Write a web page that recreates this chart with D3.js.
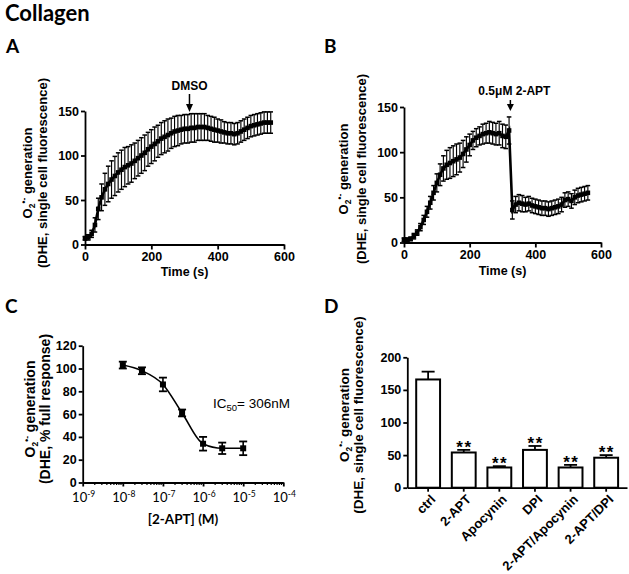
<!DOCTYPE html>
<html><head><meta charset="utf-8">
<script src="https://cdn.jsdelivr.net/npm/d3@7"></script>
<style>
body{margin:0;background:#fff;}
svg text{font-family:"Liberation Sans",Arial,sans-serif;fill:#000;}
</style></head><body>
<svg id="c" width="629" height="574"></svg>
<script>
// ---------- DATA ----------
const timeTicks = [0, 200, 400, 600];
const yTicksAB = [0, 50, 100, 150];

const timeA = [0,10,20,30,40,50,60,70,80,90,100,110,120,130,140,150,160,170,180,190,200,210,220,230,240,250,260,270,280,290,300,310,320,330,340,350,360,370,380,390,400,410,420,430,440,450,460,470,480,490,500,510,520,530,540,550,560];
const meanA = [7,8,12,22,40,53,62,68,73,77, 81,84,87,89,91,94,97,100,103,107, 110,113,116,119,121,123,125,127,128,129, 130,130,131,131,132,132,132,131,130,129, 128,127,126,125,125,124,125,127,129,131, 133,134,135,136,137,137,137];
const errA  = [2,3,4,8,12,15,18,20,21,22, 22,22,22,21,21,20,20,20,20,19, 19,19,18,18,18,18,17,17,17,16, 16,16,16,16,15,15,15,14,14,14, 13,13,12,12,12,12,12,12,12,12, 12,12,12,12,12,12,12];
const arrowA = {time: 315, label: "DMSO"};

const timeB = [0,10,20,30,40,50,60,70,80,90,100,110,120,130,140,150,160,170,180,190,200,210,220,230,240,250,260,270,280,290,300,310,320,330,340,350,360,370,380,390,400,410,420,430,440,450,460,470,480,490,500,510,520,530,540,550,560];
const meanB = [3,3,4,7,11,17,25,34,44,55, 66,75,82,86,88,90,92,94,98,103, 108,113,116,118,120,121,122,121,120,121, 118,117,124,36,42,44,43,42,43,41, 40,39,38,38,37,38,39,40,42,47, 48,46,50,52,53,54,55];
const errB  = [2,2,2,3,3,4,5,6,7,8, 10,12,14,16,17,17,17,16,15,14, 12,10,10,10,11,11,12,12,12,13, 13,13,15,10,9,9,9,8,8,8, 8,8,8,8,8,8,8,8,8,8, 8,8,8,8,8,8,8];
const arrowB = {time: 324, label: "0.5\u03bcM 2-APT"};

const concC = [1e-8, 3e-8, 1e-7, 3e-7, 1e-6, 3e-6, 1e-5];
const meanC = [103, 98, 86, 61, 34, 30, 30];
const errC  = [3, 3, 6, 3, 6, 5, 6];
const decadeExpC = [-9, -8, -7, -6, -5, -4];
const yTicksC = [0, 20, 40, 60, 80, 100, 120];

const catsD = ["ctrl", "2-APT", "Apocynin", "DPI", "2-APT/Apocynin", "2-APT/DPI"];
const meanD = [166, 54, 31, 58, 31, 46];
const errD  = [12, 4, 2, 6, 4, 4];
const sigD  = ["", "**", "**", "**", "**", "**"];
const yTicksD = [0, 50, 100, 150, 200];

// ---------- DRAW ----------
const svg = d3.select('#c');
const LATO = 'Lato, "Liberation Sans", sans-serif';

function styleAxis(g, fs) {
  g.selectAll('path,line').attr('stroke', '#000').attr('stroke-width', 1.8);
  g.selectAll('text').attr('font-size', fs).attr('font-weight', 'bold').attr('fill', '#000');
}

function yTitle(x1, x2, yc, line2, fs) {
  const t1 = svg.append('text').attr('transform', `translate(${x1},${yc}) rotate(-90)`)
    .attr('text-anchor', 'middle').attr('font-size', fs).attr('font-weight', 'bold');
  t1.append('tspan').text('O');
  t1.append('tspan').attr('font-size', 8.5).attr('dy', 3).text('2');
  t1.append('tspan').attr('font-size', 8.5).attr('dy', -8).text('\u2022-');
  t1.append('tspan').attr('dy', 5).text(' generation');
  svg.append('text').attr('transform', `translate(${x2},${yc}) rotate(-90)`)
    .attr('text-anchor', 'middle').attr('font-size', fs).attr('font-weight', 'bold').text(line2);
}

function panelLetter(txt, x, y) {
  svg.append('text').attr('x', x).attr('y', y)
    .attr('font-weight', 'bold').attr('font-size', 19).style('font-family', LATO).text(txt);
}

svg.append('text').attr('x', 5).attr('y', 21).style('font-family', LATO)
  .attr('font-weight', 'bold').attr('font-size', 22).text('Collagen');

function timePanel(times, means, errs, xr, yr, axisY) {
  const x = d3.scaleLinear([0, 600], xr);
  const y = d3.scaleLinear([0, 150], yr);
  const g = svg.append('g');
  const eb = g.append('g').attr('stroke', '#000').attr('stroke-width', 1.15);
  times.forEach((t, i) => {
    const cx = x(t), y1 = y(means[i] + errs[i]), y0 = y(means[i] - errs[i]);
    eb.append('line').attr('x1', cx).attr('x2', cx).attr('y1', y1).attr('y2', y0);
    eb.append('line').attr('x1', cx - 2.3).attr('x2', cx + 2.3).attr('y1', y1).attr('y2', y1).attr('stroke-width', 1.5);
    eb.append('line').attr('x1', cx - 2.3).attr('x2', cx + 2.3).attr('y1', y0).attr('y2', y0).attr('stroke-width', 1.5);
  });
  const line = d3.line().x((d, i) => x(times[i])).y(d => y(d));
  g.append('path').attr('d', line(means)).attr('fill', 'none').attr('stroke', '#000').attr('stroke-width', 2.6);
  g.selectAll('rect.m').data(means).join('rect')
    .attr('x', (d, i) => x(times[i]) - 2.3).attr('y', d => y(d) - 2.3)
    .attr('width', 4.6).attr('height', 4.6).attr('fill', '#000');
  const ax = svg.append('g').attr('transform', `translate(0,${y(0)})`)
    .call(d3.axisBottom(x).tickValues(timeTicks).tickSize(5).tickSizeOuter(0).tickPadding(3));
  styleAxis(ax, 12.5);
  const ay = svg.append('g').attr('transform', `translate(${x(0)},0)`)
    .call(d3.axisLeft(y).tickValues(yTicksAB).tickSize(4).tickSizeOuter(0).tickPadding(2));
  styleAxis(ay, 12.5);
  svg.append('text').attr('x', x(300)).attr('y', axisY).attr('text-anchor', 'middle')
    .attr('font-size', 12.5).attr('font-weight', 'bold').text('Time (s)');
  return {x, y};
}

function arrow(ax, yTop, yHeadTop, yTip) {
  svg.append('line').attr('x1', ax).attr('x2', ax).attr('y1', yTop).attr('y2', yHeadTop + 2).attr('stroke', '#000').attr('stroke-width', 1.5);
  svg.append('path').attr('d', `M${ax - 3.5},${yHeadTop} L${ax + 3.5},${yHeadTop} L${ax},${yTip} Z`).attr('fill', '#000');
}

// Panel A
panelLetter('A', 6, 53);
const pA = timePanel(timeA, meanA, errA, [85, 284], [244.5, 111], 276);
yTitle(31.5, 46.5, 173, '(DHE, single cell fluorescence)', 13);
svg.append('text').attr('x', pA.x(arrowA.time)).attr('y', 90).attr('text-anchor', 'middle')
  .attr('font-size', 12).attr('font-weight', 'bold').text(arrowA.label);
arrow(pA.x(arrowA.time), 94, 104, 112);

// Panel B
panelLetter('B', 324, 53);
const pB = timePanel(timeB, meanB, errB, [404, 601], [242.5, 107], 274.5);
yTitle(348, 366, 169, '(DHE, single cell fluorescence)', 13);
svg.append('text').attr('x', pB.x(arrowB.time) + 4).attr('y', 95).attr('text-anchor', 'middle')
  .attr('font-size', 12).attr('font-weight', 'bold').text(arrowB.label);
arrow(pB.x(arrowB.time), 100, 104, 111);

// Panel C
panelLetter('C', 5, 313);
{
  const x = d3.scaleLog([1e-9, 1e-4], [82.7, 283.3]);
  const y = d3.scaleLinear([0, 120], [482.5, 345.7]);
  const g = svg.append('g');
  const line = d3.line().x((d, i) => x(concC[i])).y(d => y(d)).curve(d3.curveMonotoneX);
  g.append('path').attr('d', line(meanC)).attr('fill', 'none').attr('stroke', '#000').attr('stroke-width', 1.6);
  concC.forEach((c, i) => {
    const cx = x(c), y1 = y(meanC[i] + errC[i]), y0 = y(meanC[i] - errC[i]);
    g.append('line').attr('x1', cx).attr('x2', cx).attr('y1', y1).attr('y2', y0).attr('stroke', '#000').attr('stroke-width', 1.6);
    [y1, y0].forEach(yy => g.append('line').attr('x1', cx - 4).attr('x2', cx + 4).attr('y1', yy).attr('y2', yy).attr('stroke', '#000').attr('stroke-width', 1.8));
    g.append('rect').attr('x', cx - 3).attr('y', y(meanC[i]) - 3).attr('width', 6).attr('height', 6).attr('fill', '#000');
  });
  const majors = decadeExpC.map(e => Math.pow(10, e));
  const ax = svg.append('g').attr('transform', `translate(0,${y(0)})`)
    .call(d3.axisBottom(x).tickValues(majors).tickSize(4).tickSizeOuter(0).tickFormat(''));
  styleAxis(ax, 12);
  decadeExpC.slice(0, -1).forEach(e => {
    for (let k = 2; k <= 9; k++) {
      const v = k * Math.pow(10, e);
      svg.append('line').attr('x1', x(v)).attr('x2', x(v)).attr('y1', y(0)).attr('y2', y(0) + 2.5)
        .attr('stroke', '#000').attr('stroke-width', 1.2);
    }
  });
  decadeExpC.forEach(e => {
    const t = svg.append('text').attr('x', x(Math.pow(10, e)) + 1).attr('y', 502).attr('text-anchor', 'middle')
      .style('font-family', LATO).attr('font-size', 13);
    t.append('tspan').text('10');
    t.append('tspan').attr('font-size', 8.5).attr('dy', -5).text(String(e));
  });
  const ay = svg.append('g').attr('transform', `translate(${x(1e-9)},0)`)
    .call(d3.axisLeft(y).tickValues(yTicksC).tickSize(4).tickSizeOuter(0).tickPadding(2));
  styleAxis(ay, 12.5);
  svg.append('text').attr('x', x(Math.pow(10, -6.5))).attr('y', 524).attr('text-anchor', 'middle')
    .style('font-family', LATO).attr('font-weight', 'bold').attr('font-size', 13.5).text('[2-APT] (M)');
  const ic = svg.append('text').attr('x', 213).attr('y', 408).attr('font-size', 13.5);
  ic.append('tspan').text('IC');
  ic.append('tspan').attr('font-size', 9.5).attr('dy', 3).text('50');
  ic.append('tspan').attr('dy', -3).text('= 306nM');
  yTitle(35, 50, 409, '(DHE, % full response)', 14);
}

// Panel D
panelLetter('D', 324, 313);
{
  const x = d3.scaleBand(catsD, [407.3, 627]).paddingInner(0.33).paddingOuter(0.25);
  const y = d3.scaleLinear([0, 200], [487.7, 357.3]);
  const g = svg.append('g');
  catsD.forEach((c, i) => {
    const cx = x(c) + x.bandwidth() / 2;
    const ytop = y(meanD[i] + errD[i]);
    g.append('line').attr('x1', cx).attr('x2', cx).attr('y1', y(meanD[i])).attr('y2', ytop).attr('stroke', '#000').attr('stroke-width', 1.8);
    g.append('line').attr('x1', cx - 6.5).attr('x2', cx + 6.5).attr('y1', ytop).attr('y2', ytop).attr('stroke', '#000').attr('stroke-width', 1.8);
    g.append('rect').attr('x', x(c)).attr('y', y(meanD[i])).attr('width', x.bandwidth())
      .attr('height', y(0) - y(meanD[i])).attr('fill', '#fff').attr('stroke', '#000').attr('stroke-width', 2);
    if (sigD[i]) {
      g.append('text').attr('x', cx + 0.7).attr('y', ytop + 3).attr('text-anchor', 'middle')
        .attr('font-size', 17).attr('font-weight', 'bold').attr('letter-spacing', 1.5).text(sigD[i]);
    }
  });
  const ax = svg.append('g').attr('transform', `translate(0,${y(0)})`)
    .call(d3.axisBottom(x).tickSize(4).tickSizeOuter(0).tickFormat(''));
  styleAxis(ax, 12);
  catsD.forEach(c => {
    const cx = x(c) + x.bandwidth() / 2;
    svg.append('text').attr('transform', `translate(${cx + 5},497) rotate(-45)`)
      .attr('text-anchor', 'end').attr('dy', '0.35em').attr('font-size', 13).attr('font-weight', 'bold').text(c);
  });
  const ay = svg.append('g').attr('transform', `translate(407.3,0)`)
    .call(d3.axisLeft(y).tickValues(yTicksD).tickSize(4).tickSizeOuter(0).tickPadding(2));
  styleAxis(ay, 12.5);
  yTitle(349, 362.5, 415, '(DHE, single cell fluorescence)', 13.5);
}
</script></body></html>
